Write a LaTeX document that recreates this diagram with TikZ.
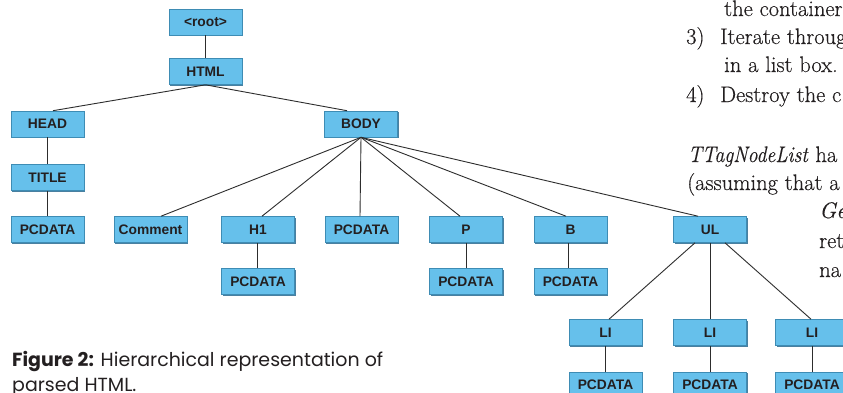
\documentclass[tikz,border=0pt]{standalone}
\usepackage{fontspec}
\usepackage{graphicx}
\newfontfamily\boxfont{Liberation Sans}
\newfontfamily\capfont{Poppins}
\newfontfamily\pagefont[FakeBold=0.35]{Latin Modern Roman}
\usetikzlibrary{shadows}
\definecolor{boxfill}{RGB}{102,192,235}
\definecolor{boxedge}{RGB}{62,140,180}
\definecolor{boxshadow}{RGB}{55,115,150}
\definecolor{linegray}{RGB}{45,45,45}
\definecolor{ink}{RGB}{35,31,32}
\newlength\capw
\begin{document}
\settowidth\capw{\capfont\fontsize{15bp}{18bp}\selectfont\textbf{Figure 2:} Hierarchical representation of}%
\pgfmathsetmacro\capsize{15*371*1.00375/\capw}%
\begin{tikzpicture}[x=1bp,y=-1bp,
  tagbox/.style={draw=boxedge, line width=0.6bp, fill=boxfill,
    minimum width=73bp, minimum height=26bp, inner sep=0pt,
    font=\boxfont\bfseries\fontsize{13.8bp}{15bp}\selectfont, text=ink,
    drop shadow={shadow xshift=1bp, shadow yshift=-1bp, fill=boxshadow, opacity=0.9}},
  link/.style={draw=linegray, line width=0.9bp},
  pagetext/.style={font=\pagefont\fontsize{22.5bp}{25bp}\selectfont, text=ink, anchor=base west, inner sep=0pt},
  captext/.style={text=ink, anchor=base west, inner sep=0pt},
]
\path[use as bounding box, clip] (0,0) rectangle (843,392);
\fill[white] (0,0) rectangle (843,392);

% tree nodes
\node[tagbox] (root) at (205.5,22) {<root>};
\node[tagbox] (html) at (205.5,71.5) {HTML};
\node[tagbox] (head) at (47.5,124) {HEAD};
\node[tagbox] (body) at (361,124) {BODY};
\node[tagbox] (title) at (47.5,177.5) {TITLE};
\node[tagbox] (pcd1) at (47.5,229.5) {PCDATA};
\node[tagbox] (comment) at (150.5,229.5) {Comment};
\node[tagbox] (h1) at (258,229.5) {H1};
\node[tagbox] (pcd2) at (361.5,229.5) {PCDATA};
\node[tagbox] (p) at (466,229.5) {P};
\node[tagbox] (b) at (570.5,229.5) {B};
\node[tagbox] (ul) at (710,229.5) {UL};
\node[tagbox] (pcd3) at (258,281.5) {PCDATA};
\node[tagbox] (pcd4) at (466,281.5) {PCDATA};
\node[tagbox] (pcd5) at (570.5,281.5) {PCDATA};
\node[tagbox] (li1) at (605.5,332.5) {LI};
\node[tagbox] (li2) at (710,332.5) {LI};
\node[tagbox] (li3) at (812,332.5) {LI};
\node[tagbox] (pcd6) at (605.5,385) {PCDATA};
\node[tagbox] (pcd7) at (710,385) {PCDATA};
\node[tagbox] (pcd8) at (812,385) {PCDATA};

% connectors
\path[link] (root.south) -- (html.north);
\path[link] (html.south) -- ([xshift=5.5bp]head.north);
\path[link] (html.south) -- ([xshift=-14bp]body.north);
\path[link] (head.south) -- (title.north);
\path[link] (title.south) -- (pcd1.north);
\path[link] (body.south) -- ([xshift=10.5bp]comment.north);
\path[link] (body.south) -- ([xshift=4bp]h1.north);
\path[link] (body.south) -- ([xshift=-1.5bp]pcd2.north);
\path[link] (body.south) -- ([xshift=-6bp]p.north);
\path[link] (body.south) -- ([xshift=-4.5bp]b.north);
\path[link] (body.south) -- ([xshift=-12bp]ul.north);
\path[link] ([xshift=-1bp]h1.south) -- ([xshift=-1bp]pcd3.north);
\path[link] (p.south) -- (pcd4.north);
\path[link] ([xshift=-2bp]b.south) -- ([xshift=-2bp]pcd5.north);
\path[link] ([xshift=-15bp]ul.south) -- ([xshift=3.5bp]li1.north);
\path[link] (ul.south) -- (li2.north);
\path[link] ([xshift=15bp]ul.south) -- ([xshift=-1bp]li3.north);
\path[link] (li1.south) -- (pcd6.north);
\path[link] (li2.south) -- (pcd7.north);
\path[link] (li3.south) -- (pcd8.north);

% page text on the right
\node[pagetext] (t1) at (724,16) {the container};
\node[pagetext] (t2a) at (686,44) {3)};
\node[pagetext] (t2) at (720,44) {Iterate throug};
\node[pagetext] (t3) at (724,72) {in a list box.};
\node[pagetext] (t4a) at (686,102) {4)};
\node[pagetext] (t4) at (720,102) {Destroy the c};
\node[pagetext] (t5) at (688,162) {\scalebox{0.88}[1]{\textit{TTagNodeList}} ha};
\node[pagetext] (t6) at (687,190) {(assuming that a};
\node[pagetext] (t7) at (819,218) {\textit{Ge}};
\node[pagetext] (t8) at (819,248) {ret};
\node[pagetext] (t9) at (819,277) {na};

% caption
\node[captext] (cap1) at (12,366) {\capfont\fontsize{\capsize bp}{20bp}\selectfont\textbf{Figure 2:} Hierarchical representation of};
\node[captext] (cap2) at (12,391) {\capfont\fontsize{\capsize bp}{20bp}\selectfont parsed HTML.};
\end{tikzpicture}
\end{document}
